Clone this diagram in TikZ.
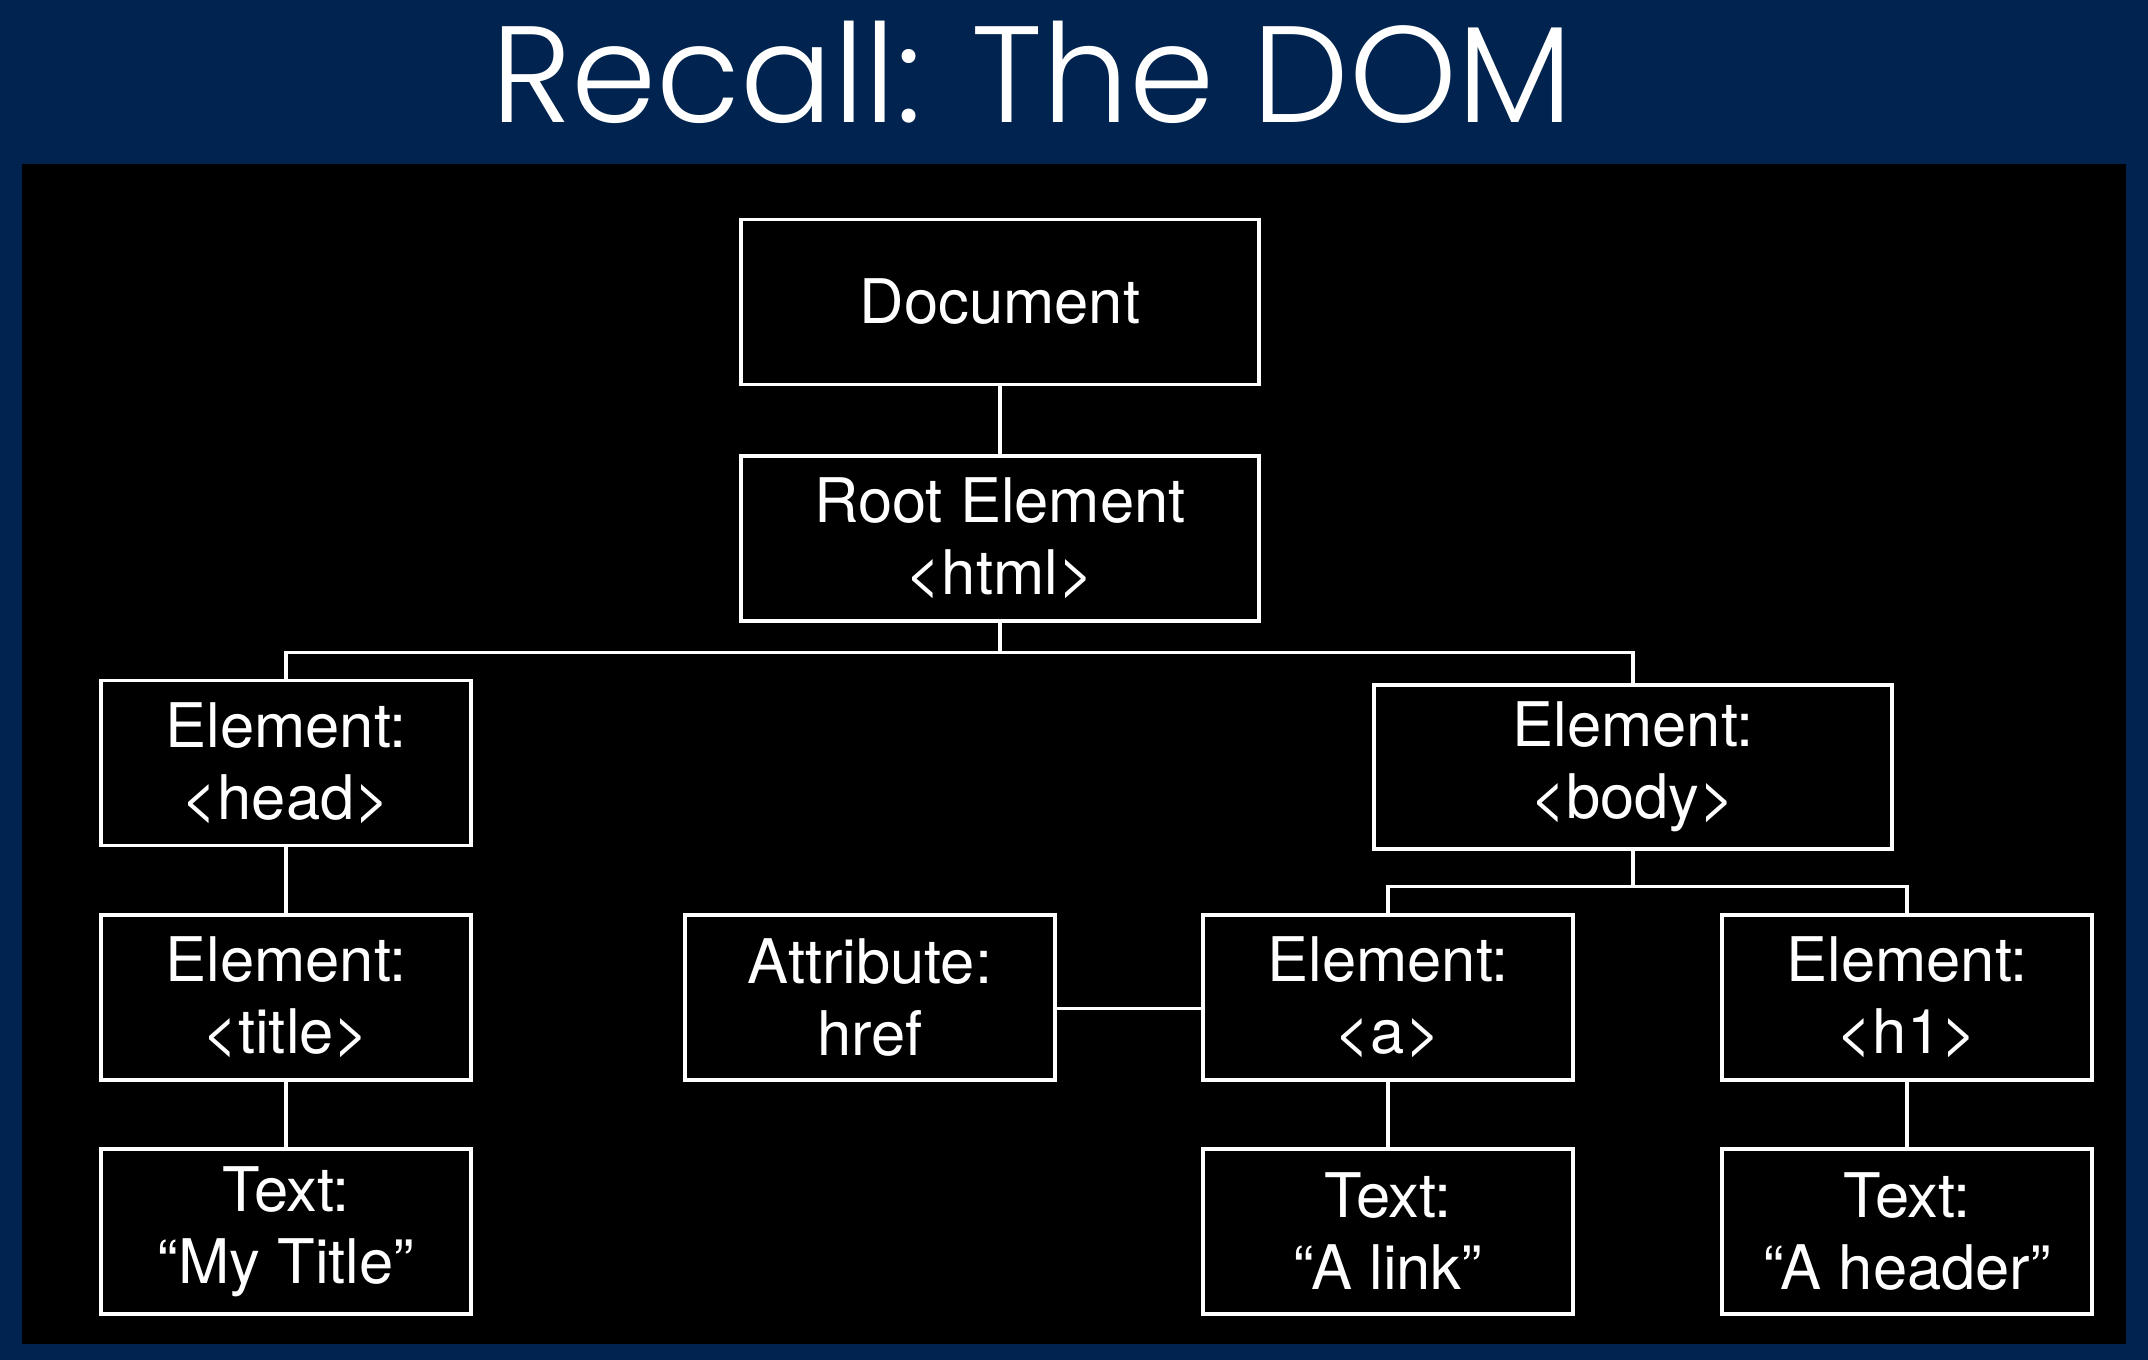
\documentclass[tikz,border=0pt]{standalone}
\usepackage{fontspec}
\setmainfont{TeX Gyre Heros}
\newfontfamily\titlefont{Poppins Light}
\definecolor{navy}{HTML}{00244F}
\tikzset{
    box/.style={draw=white, line width=1pt, text=white, align=center, font=\fontsize{17.5}{20.5}\selectfont,
        minimum width=3.70cm, minimum height=1.65cm, inner sep=0pt},
    widebox/.style={box, minimum width=5.18cm},
    link/.style={white, line width=0.9pt}
}
\begin{document}
\begin{tikzpicture}
        \fill[navy] (0, 0) rectangle (21.48, -13.60);
        \fill[black] (0.22, -1.64) rectangle (21.26, -13.44);
        \node[white, font=\titlefont\fontsize{39}{44}\selectfont] (heading) at (10.32, -0.72) {Recall: The DOM};
        \node[widebox] (doc) at (10.00, -3.02) {Document};
        \node[widebox] (root) at (10.00, -5.385) {Root Element\\<html>};
        \node[box] (head) at (2.86, -7.63) {Element:\\<head>};
        \node[widebox, minimum height=1.64cm] (body) at (16.33, -7.67) {Element:\\<body>};
        \node[box] (title) at (2.86, -9.975) {Element:\\<title>};
        \node[box] (attr) at (8.70, -9.975) {Attribute:\\href};
        \node[box] (anchor) at (13.88, -9.975) {Element:\\<a>};
        \node[box] (hone) at (19.07, -9.975) {Element:\\<h1>};
        \node[box] (titletext) at (2.86, -12.315) {Text:\\“My Title”};
        \node[box] (linktext) at (13.88, -12.315) {Text:\\“A link”};
        \node[box] (headertext) at (19.07, -12.315) {Text:\\“A header”};
        \draw[link] (doc) -- (root);
        \draw[link] (root.south) -- ++(0, -0.30) -| (head.north);
        \draw[link] (root.south) -- ++(0, -0.30) -| (body.north);
        \draw[link] (body.south) -- ++(0, -0.36) -| (anchor.north);
        \draw[link] (body.south) -- ++(0, -0.36) -| (hone.north);
        \draw[link] (head) -- (title);
        \draw[link] (title) -- (titletext);
        \draw[link] ([yshift=-0.11cm]attr.east) -- ([yshift=-0.11cm]anchor.west);
        \draw[link] (anchor) -- (linktext);
        \draw[link] (hone) -- (headertext);
    \end{tikzpicture}
\end{document}
